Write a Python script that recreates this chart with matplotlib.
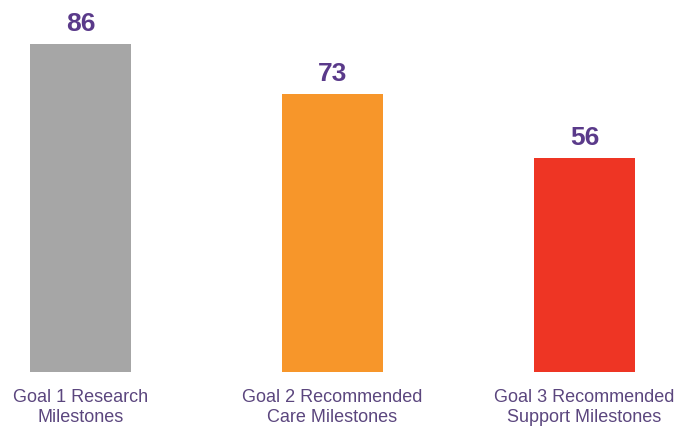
import matplotlib.pyplot as plt

categories = ["Goal 1 Research\nMilestones", "Goal 2 Recommended\nCare Milestones", "Goal 3 Recommended\nSupport Milestones"]
values = [86, 73, 56]
colors = ["#a6a6a6", "#f7962a", "#ee3524"]

plt.rcParams['font.family'] = ['Liberation Sans', 'DejaVu Sans']

fig = plt.figure(figsize=(6.9, 4.37), dpi=100)
ax = fig.add_axes([0, 65 / 437, 1, 372 / 437])

x = range(len(values))
bars = ax.bar(x, values, width=0.4, color=colors)

for xi, v in zip(x, values):
    ax.text(xi, v + 3.4, str(v), ha="center", va="baseline", fontsize=19,
            fontweight="bold", color="#5a3a8a")

ax.set_xlim(-80.5 / 252, (690 - 80.5) / 252)
ax.set_ylim(0, 372 / 3.814)
ax.set_xticks(list(x))
ax.set_xticklabels(categories, fontsize=13, color="#5b467e", linespacing=1.22)
ax.tick_params(axis="x", length=0, pad=12)
ax.set_yticks([])
for s in ax.spines.values():
    s.set_visible(False)

fig.savefig("out.png", dpi=100)
